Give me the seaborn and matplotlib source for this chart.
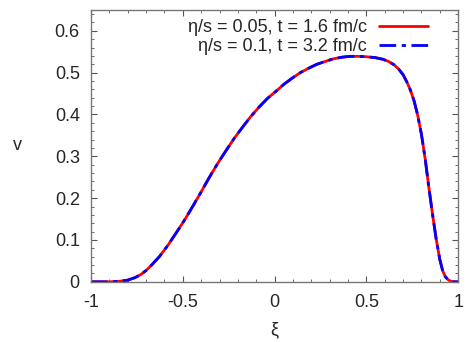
import matplotlib
matplotlib.use("Agg")
import matplotlib.pyplot as plt
import pandas as pd
import seaborn as sns
from matplotlib.ticker import MultipleLocator, FuncFormatter

# values
xi = [-1.0, -0.9, -0.85, -0.8, -0.76, -0.73, -0.70, -0.67, -0.626, -0.58,
      -0.536, -0.49, -0.445, -0.40, -0.355, -0.31, -0.264, -0.22, -0.174,
      -0.13, -0.084, -0.04, 0.006, 0.05, 0.096, 0.14, 0.187, 0.23, 0.277,
      0.32, 0.367, 0.41, 0.458, 0.50, 0.548, 0.59, 0.62, 0.65, 0.675,
      0.70, 0.72, 0.74, 0.76, 0.78, 0.80, 0.82, 0.84, 0.86, 0.88, 0.90,
      0.915, 0.93, 0.945, 0.96, 0.975, 1.0]
v_005 = [0.0, 0.0, 0.001, 0.004, 0.010, 0.017, 0.027, 0.040, 0.061, 0.088,
         0.117, 0.148, 0.181, 0.215, 0.250, 0.283, 0.314, 0.343, 0.370,
         0.395, 0.418, 0.438, 0.455, 0.472, 0.487, 0.500, 0.511, 0.520,
         0.527, 0.533, 0.537, 0.539, 0.539, 0.538, 0.536, 0.532, 0.527,
         0.519, 0.509, 0.495, 0.478, 0.458, 0.432, 0.397, 0.352, 0.294,
         0.226, 0.162, 0.102, 0.053, 0.027, 0.012, 0.005, 0.001, 0.0, 0.0]
v_01 = list(v_005)

labels = ["\u03b7/s = 0.05, t = 1.6 fm/c", "\u03b7/s = 0.1, t = 3.2 fm/c"]

df = pd.concat([
    pd.DataFrame({"xi": xi, "v": v_005, "case": labels[0]}),
    pd.DataFrame({"xi": xi, "v": v_01, "case": labels[1]}),
])

sns.set_style("ticks")
plt.rcParams["font.family"] = ["Liberation Sans", "DejaVu Sans"]

fig = plt.figure(figsize=(4.69, 3.42), dpi=100)
ax = fig.add_axes([0.194, 0.176, 0.783, 0.795])

sns.lineplot(data=df, x="xi", y="v", hue="case", style="case",
             palette=["#ff0000", "#0000ff"], dashes=["", (6, 2, 1.5, 2)],
             linewidth=2, ax=ax, legend=True, sort=False, estimator=None)

ax.set_xlim(-1, 1)
ax.set_ylim(0, 0.65)
ax.xaxis.set_major_locator(MultipleLocator(0.5))
ax.xaxis.set_minor_locator(MultipleLocator(0.1))
ax.yaxis.set_major_locator(MultipleLocator(0.1))
ax.yaxis.set_minor_locator(MultipleLocator(0.02))
ax.xaxis.set_major_formatter(FuncFormatter(lambda x, p: "%g" % x))
ax.yaxis.set_major_formatter(FuncFormatter(lambda y, p: "%g" % y))
ax.tick_params(which="both", direction="in", top=True, right=True,
               labelsize=13, color="#555555")
ax.tick_params(axis="x", pad=9)
ax.tick_params(axis="y", pad=8)
ax.tick_params(which="major", length=4)
ax.tick_params(which="minor", length=2)
for s in ax.spines.values():
    s.set_color("#777777")
    s.set_linewidth(1)

ax.set_xlabel("\u03be", fontsize=13, labelpad=7)
ax.set_ylabel("v", fontsize=13, labelpad=27, rotation=0, va="center")

leg = ax.legend(loc="upper right", bbox_to_anchor=(0.952, 1.012), frameon=False,
                fontsize=13, markerfirst=False, handlelength=2.7,
                borderaxespad=0.4, borderpad=0.3, labelspacing=0.12,
                handletextpad=0.7)
for t in leg.get_texts():
    t.set_ha("right")

fig.savefig("out.png", dpi=100)
